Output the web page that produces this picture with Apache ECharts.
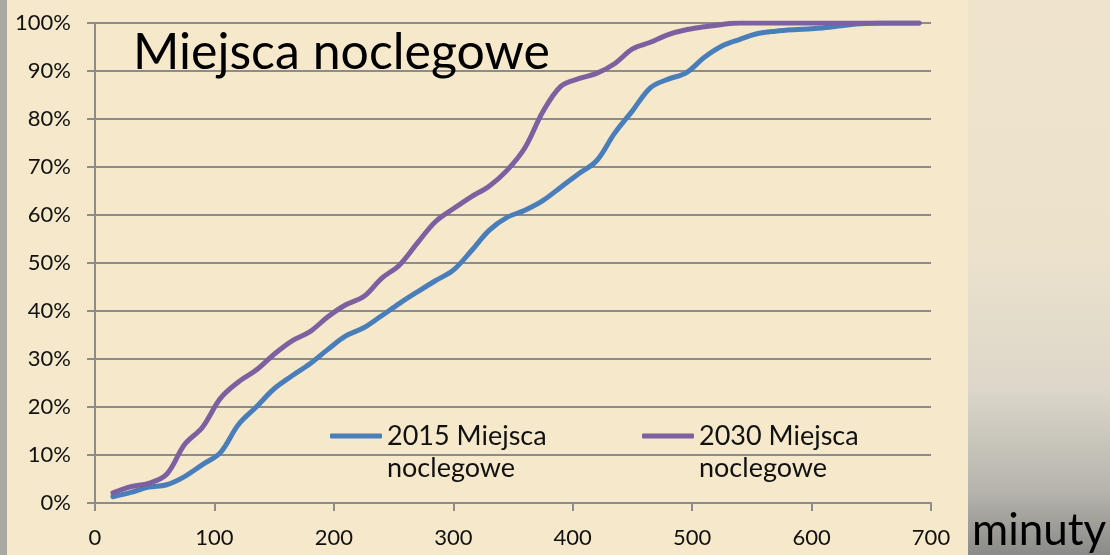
<!DOCTYPE html>
<html>
<head>
<meta charset="utf-8">
<title>Miejsca noclegowe</title>
<script src="https://cdn.jsdelivr.net/npm/echarts@6/dist/echarts.min.js"></script>
<style>
  html, body { margin: 0; padding: 0; }
  #chart { width: 1110px; height: 555px; }
</style>
</head>
<body>
<div id="chart"></div>
<script>
// Travel time in minutes (x) and cumulative share of accommodation places (%)
const minutes = [15, 30, 45, 60, 75, 90, 105, 120, 135, 150, 165, 180, 195, 210, 225, 240,
  255, 270, 285, 300, 315, 330, 345, 360, 375, 390, 405, 420, 435, 450, 465, 480, 495,
  510, 525, 540, 555, 570, 585, 600, 615, 630, 645, 660, 675, 690];

const places2015 = [1.3, 2.2, 3.3, 3.8, 5.5, 8.0, 10.5, 16.3, 20.0, 23.8, 26.5, 29.0, 32.0,
  34.8, 36.5, 39.0, 41.6, 44.0, 46.3, 48.5, 52.5, 56.8, 59.5, 61.0, 63.0, 65.8, 68.6, 71.3,
  77.0, 81.7, 86.5, 88.3, 89.6, 92.8, 95.2, 96.6, 97.8, 98.3, 98.6, 98.8, 99.1, 99.6, 99.9,
  100, 100, 100];

const places2030 = [2.1, 3.4, 4.1, 6.0, 12.2, 15.8, 21.8, 25.2, 27.7, 31.0, 33.8, 35.7, 38.8,
  41.3, 43.0, 46.8, 49.6, 54.2, 58.6, 61.3, 63.8, 66.0, 69.3, 74.0, 81.5, 86.8, 88.4, 89.5,
  91.5, 94.6, 96.0, 97.6, 98.6, 99.2, 99.7, 100, 100, 100, 100, 100, 100, 100, 100, 100,
  100, 100];

const seriesNames = ['2015 Miejsca noclegowe', '2030 Miejsca noclegowe'];
const xTicks = [0, 100, 200, 300, 400, 500, 600, 700];
const yTicks = [0, 10, 20, 30, 40, 50, 60, 70, 80, 90, 100];

const FONT = 'Lato, "Open Sans", sans-serif';
const GRID_GREY = '#8c8c8c';

function pairs(xs, ys) { return xs.map((x, i) => [x, ys[i]]); }

const chart = echarts.init(document.getElementById('chart'));

// Legend entries wrap onto two lines; the empty leading line keeps the
// first text line level with the legend swatch.
const legendBase = {
  orient: 'horizontal',
  padding: 0,
  icon: 'roundRect',
  itemWidth: 52,
  itemHeight: 5,
  textStyle: { fontFamily: FONT, fontSize: 27, color: '#111', lineHeight: 32 },
  formatter: name => '\n' + name.replace(' noclegowe', '\nnoclegowe')
};

chart.setOption({
  backgroundColor: 'transparent',
  animation: false,
  graphic: [
    {
      type: 'rect', z: -10, silent: true,
      shape: { x: 0, y: 0, width: 1110, height: 555 },
      style: {
        fill: new echarts.graphic.LinearGradient(0, 0, 0, 1, [
          { offset: 0, color: '#efe4cb' },
          { offset: 0.45, color: '#ece2cc' },
          { offset: 0.7, color: '#dcd7ca' },
          { offset: 0.88, color: '#b7b5ae' },
          { offset: 1, color: '#8a8a88' }
        ])
      }
    },
    {
      type: 'rect', z: -9, silent: true,
      shape: { x: 0, y: 0, width: 7, height: 555 },
      style: { fill: '#a9a8a2' }
    },
    {
      type: 'rect', z: -8, silent: true,
      shape: { x: 7, y: 0, width: 961, height: 555 },
      style: { fill: '#f6e9cb' }
    },
    {
      type: 'text', left: 133, top: 28, z: 10,
      style: { text: 'Miejsca noclegowe', fontFamily: FONT, fontSize: 50, fill: '#000' }
    }
  ],
  grid: {
    left: 95, right: 179, top: 23, bottom: 52,
    containLabel: false, outerBoundsMode: 'none'
  },
  legend: [
    Object.assign({}, legendBase, { data: [seriesNames[0]], left: 330, top: 388 }),
    Object.assign({}, legendBase, { data: [seriesNames[1]], left: 642, top: 388 })
  ],
  xAxis: {
    type: 'value', min: xTicks[0], max: xTicks[xTicks.length - 1], interval: 100,
    name: 'minuty', nameLocation: 'end', nameGap: 41,
    nameTextStyle: {
      fontFamily: FONT, fontSize: 44, color: '#000', align: 'left',
      verticalAlign: 'top', lineHeight: 56
    },
    axisLine: { show: true, lineStyle: { color: GRID_GREY, width: 2 } },
    axisTick: { show: true, inside: false, length: 8, lineStyle: { color: GRID_GREY, width: 2 } },
    axisLabel: { fontFamily: FONT, fontSize: 22, color: '#111', margin: 24 },
    splitLine: { show: false }
  },
  yAxis: {
    type: 'value', min: yTicks[0], max: yTicks[yTicks.length - 1], interval: 10,
    axisLine: { show: true, lineStyle: { color: GRID_GREY, width: 2 } },
    axisTick: { show: true, inside: false, length: 8, lineStyle: { color: GRID_GREY, width: 2 } },
    axisLabel: { fontFamily: FONT, fontSize: 22, color: '#111', margin: 24, formatter: '{value}%' },
    splitLine: { show: true, lineStyle: { color: GRID_GREY, width: 2 } }
  },
  series: [
    {
      name: seriesNames[0], type: 'line', data: pairs(minutes, places2015),
      smooth: 0.35, symbol: 'none', color: '#4a7ebb',
      lineStyle: { width: 5, color: '#4a7ebb', cap: 'round', join: 'round' }
    },
    {
      name: seriesNames[1], type: 'line', data: pairs(minutes, places2030),
      smooth: 0.35, symbol: 'none', color: '#7d60a0',
      lineStyle: { width: 5, color: '#7d60a0', cap: 'round', join: 'round' }
    }
  ]
});
</script>
</body>
</html>
